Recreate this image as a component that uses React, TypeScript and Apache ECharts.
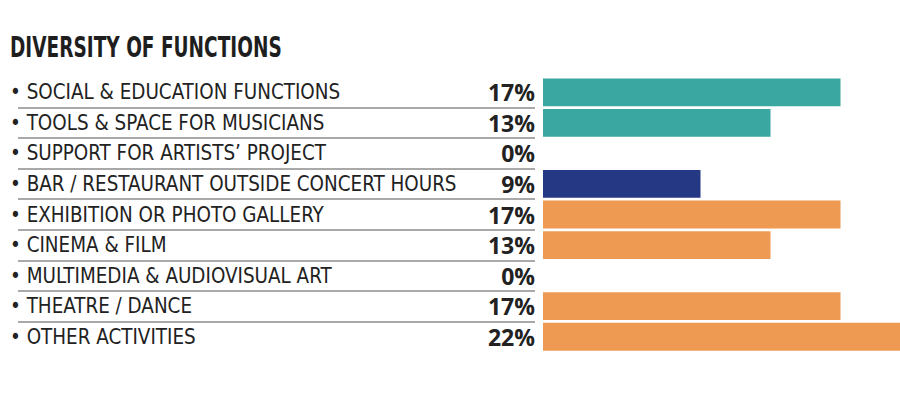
import React, { useEffect, useRef } from "react";
import * as echarts from "echarts";

const title = "DIVERSITY OF FUNCTIONS";
const categories = [
  "SOCIAL & EDUCATION FUNCTIONS",
  "TOOLS & SPACE FOR MUSICIANS",
  "SUPPORT FOR ARTISTS’ PROJECT",
  "BAR / RESTAURANT OUTSIDE CONCERT HOURS",
  "EXHIBITION OR PHOTO GALLERY",
  "CINEMA & FILM",
  "MULTIMEDIA & AUDIOVISUAL ART",
  "THEATRE / DANCE",
  "OTHER ACTIVITIES",
];
const values = [17, 13, 0, 9, 17, 13, 0, 17, 22];
const groups = ["teal", "teal", "teal", "navy", "orange", "orange", "orange", "orange", "orange"];
const groupColors: Record<string, string> = {
  teal: "#3aa8a0",
  navy: "#253883",
  orange: "#ee9a52",
};

export default function App() {
  const ref = useRef<HTMLDivElement>(null);
  useEffect(() => {
    document.body.style.margin = "0";
    const chart = echarts.init(ref.current!, null, { renderer: "svg" });
    const top = 77;
    const height = 275;
    chart.setOption({
      animation: false,
      backgroundColor: "#ffffff",
      graphic: [
        {
          type: "text",
          left: 10,
          top: 33,
          scaleX: 0.71,
          style: {
            text: title,
            fontFamily: '"DejaVu Sans Condensed", sans-serif',
            fontWeight: "bold",
            fontSize: 29,
            fill: "#1e1e1e",
          },
        },
      ],
      grid: [
        { left: 18, right: 365, top, height },
        { left: 543, right: 0, top, height },
      ],
      xAxis: [
        { gridIndex: 0, type: "value", show: false, min: 0, max: 1 },
        { gridIndex: 1, type: "value", show: false, min: 0, max: 20.4 },
      ],
      yAxis: [
        {
          gridIndex: 0,
          type: "category",
          inverse: true,
          data: categories,
          axisLine: { show: false },
          axisTick: { show: false },
          splitLine: {
            show: true,
            showMinLine: false,
            showMaxLine: false,
            lineStyle: { color: "#8c8c8c", width: 1.5 },
          },
          axisLabel: {
            align: "left",
            margin: 8,
            formatter: "• {value}",
            fontFamily: '"DejaVu Sans Condensed", sans-serif',
            fontSize: 20.4,
            color: "#222222",
          },
        },
        {
          gridIndex: 1,
          type: "category",
          inverse: true,
          data: categories,
          show: false,
        },
      ],
      series: [
        {
          type: "bar",
          xAxisIndex: 1,
          yAxisIndex: 1,
          barCategoryGap: "9%",
          clip: true,
          data: values.map((v, i) => ({
            value: v,
            itemStyle: { color: groupColors[groups[i]] },
          })),
          label: {
            show: true,
            position: "left",
            distance: 8,
            formatter: "{c}%",
            fontFamily: '"Open Sans", "Noto Sans", sans-serif',
            fontWeight: "bold",
            fontSize: 23,
            color: "#222222",
          },
        },
      ],
    });
    return () => chart.dispose();
  }, []);
  return <div ref={ref} style={{ width: 900, height: 400 }} />;
}
